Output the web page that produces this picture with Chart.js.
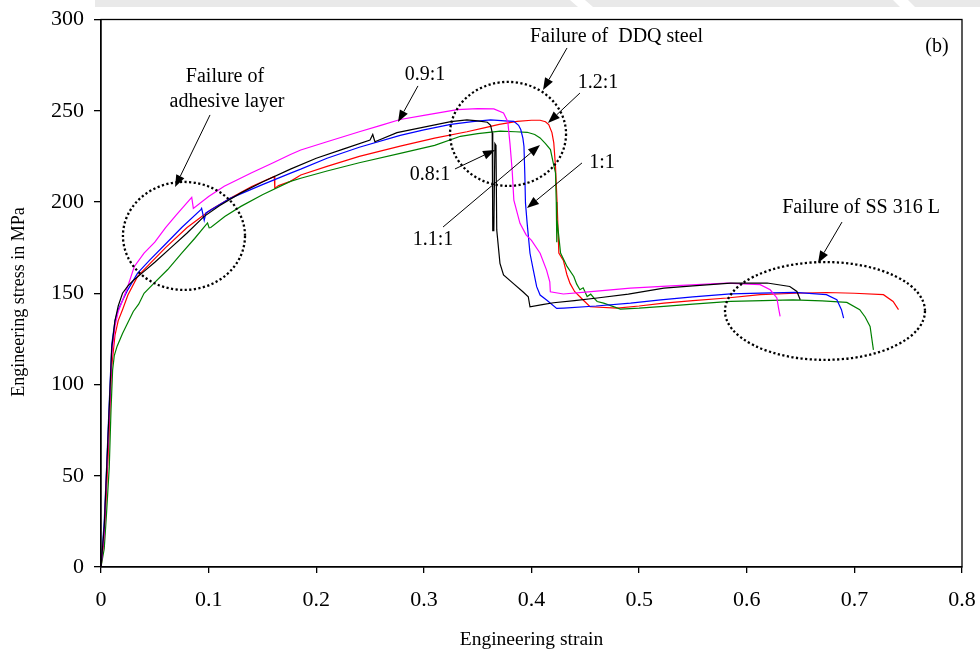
<!DOCTYPE html>
<html>
<head>
<meta charset="utf-8">
<script src="https://cdn.jsdelivr.net/npm/chart.js@4.4.1/dist/chart.umd.min.js"></script>
<style>
html, body { margin: 0; padding: 0; background: #fff; }
</style>
</head>
<body>
<canvas id="grafico" width="980" height="655"></canvas>
<script>
// Engineering strain / stress curves, one pair of arrays per width ratio
var strain08 = [0, 0.003, 0.005, 0.0075, 0.01, 0.013, 0.016, 0.02, 0.025, 0.03, 0.04, 0.05, 0.065, 0.08, 0.0956, 0.11, 0.13, 0.15, 0.176, 0.2, 0.225, 0.25, 0.2525, 0.2545, 0.275, 0.3, 0.325, 0.34, 0.35, 0.359, 0.362, 0.3635, 0.3639, 0.3641, 0.3645, 0.365, 0.366, 0.367, 0.3677, 0.3707, 0.374, 0.383, 0.392, 0.397, 0.3986, 0.41, 0.4205, 0.44, 0.461, 0.49, 0.523, 0.55, 0.585, 0.619, 0.64, 0.6466, 0.6497];
var stress08 = [0, 22, 50, 85, 120, 135, 143, 150, 154, 157, 162, 167, 175, 183, 192, 198, 205, 211, 218, 224, 229, 234, 237, 233, 238, 241, 244, 245, 244.5, 243.7, 242, 238, 237.6, 184, 192, 184, 232, 231, 184.7, 166.4, 160, 155.4, 150.8, 148.1, 142.6, 143.8, 144.8, 146, 147.4, 149.5, 152.8, 154, 155.6, 155.6, 153.7, 151, 146.4];

var strain09 = [0, 0.003, 0.005, 0.0075, 0.01, 0.013, 0.016, 0.02, 0.025, 0.031, 0.04, 0.05, 0.06, 0.07, 0.0843, 0.0858, 0.10, 0.1145, 0.14, 0.16, 0.176, 0.1856, 0.21, 0.24, 0.26, 0.278, 0.30, 0.331, 0.35, 0.365, 0.374, 0.378, 0.38, 0.382, 0.3836, 0.3893, 0.395, 0.400, 0.408, 0.414, 0.417, 0.4175, 0.4296, 0.45, 0.4919, 0.53, 0.5816, 0.6125, 0.6218, 0.628, 0.6295, 0.631];
var stress09 = [0, 18, 48, 80, 116, 132, 140, 146, 154, 164.7, 172, 178, 186, 193, 202.5, 196.5, 203, 208.6, 216, 221.5, 226, 228.5, 233, 238.5, 242, 245.2, 247.5, 250.6, 251.2, 251, 248.8, 244, 232, 217.7, 201, 188.3, 182, 179, 171.9, 162.7, 156.3, 150.8, 149.6, 150.6, 152.8, 154, 155.6, 154.7, 151.9, 147.4, 142, 137.3];

var strain10 = [0, 0.003, 0.005, 0.0075, 0.01, 0.013, 0.016, 0.02, 0.025, 0.034, 0.045, 0.06, 0.075, 0.0928, 0.0935, 0.0959, 0.0975, 0.12, 0.15, 0.1756, 0.1856, 0.21, 0.24, 0.278, 0.30, 0.325, 0.345, 0.362, 0.375, 0.3836, 0.388, 0.390, 0.392, 0.393, 0.3938, 0.3944, 0.396, 0.3986, 0.4017, 0.4048, 0.408, 0.414, 0.4234, 0.430, 0.46, 0.492, 0.52, 0.55, 0.585, 0.6125, 0.645, 0.674, 0.6837, 0.688, 0.690];
var stress10 = [0, 25, 52, 88, 122, 135, 141, 146, 152, 161, 168, 177, 186, 195.8, 196.5, 190, 194, 202, 209.5, 215.7, 218, 224, 230, 236.5, 239.5, 242.5, 244, 245, 244.5, 244.2, 242, 239.7, 235, 230.5, 215, 199.5, 188, 171.9, 162.7, 153.6, 149, 146.3, 141.7, 141.9, 143, 144.6, 146.4, 148, 149.7, 150.1, 150.5, 149.2, 146.4, 141, 136.4];

var strain11 = [0, 0.003, 0.005, 0.0077, 0.0093, 0.0108, 0.0124, 0.015, 0.02, 0.025, 0.03, 0.035, 0.04, 0.05, 0.062, 0.075, 0.087, 0.099, 0.1005, 0.102, 0.115, 0.130, 0.15, 0.176, 0.1856, 0.21, 0.24, 0.278, 0.31, 0.334, 0.35, 0.371, 0.385, 0.396, 0.403, 0.408, 0.413, 0.4176, 0.420, 0.4223, 0.423, 0.4235, 0.4238, 0.427, 0.433, 0.4393, 0.442, 0.445, 0.448, 0.4517, 0.455, 0.458, 0.461, 0.467, 0.4826, 0.50, 0.523, 0.55, 0.585, 0.615, 0.643, 0.67, 0.693, 0.705, 0.71, 0.7146, 0.7177];
var stress11 = [0, 10, 28, 55, 86, 108, 116, 121, 128, 134, 140, 144, 150, 156, 163, 172, 180, 188.5, 185.8, 186, 192, 197.6, 204, 211.3, 213, 217, 221.5, 226.6, 231, 236, 237.5, 238.8, 238.5, 238.2, 237, 235.1, 232, 228.7, 222, 215.9, 200, 178, 190, 172, 164.7, 159.2, 155, 151.9, 153, 148.2, 149.5, 147.4, 145.5, 144.6, 141.3, 141.8, 142.8, 144, 145.5, 146, 146.4, 145.8, 145, 141, 137, 131.8, 119];

var strain12 = [0, 0.003, 0.005, 0.0075, 0.01, 0.013, 0.016, 0.02, 0.025, 0.034, 0.045, 0.06, 0.08, 0.102, 0.12, 0.14, 0.161, 0.1615, 0.165, 0.176, 0.1856, 0.21, 0.24, 0.278, 0.31, 0.34, 0.356, 0.37, 0.3867, 0.40, 0.408, 0.413, 0.416, 0.419, 0.4207, 0.4223, 0.4238, 0.4254, 0.4296, 0.433, 0.4358, 0.44, 0.448, 0.4544, 0.4795, 0.50, 0.523, 0.55, 0.5816, 0.6125, 0.645, 0.674, 0.70, 0.727, 0.736, 0.741];
var stress12 = [0, 15, 40, 72, 110, 127, 135, 141, 149, 159.2, 166, 175, 186, 195.8, 202, 208.5, 214, 207.6, 209, 211.3, 214.8, 219.5, 225, 230.6, 235, 238.5, 240.6, 242.5, 244.2, 244.8, 244.8, 244, 242.4, 238, 232.4, 219.5, 199.5, 172, 168, 160, 155.4, 151, 146.3, 142.6, 141.9, 143, 144.6, 146, 147.4, 149.2, 150, 150.4, 150, 149.2, 145.5, 141];

var xTicks = [0, 0.1, 0.2, 0.3, 0.4, 0.5, 0.6, 0.7, 0.8];
var yTicks = [0, 50, 100, 150, 200, 250, 300];

// Callout texts, arrows and dotted rings, in strain / stress units
var textos = [
    ['Failure of', 0.1152, 268.5],
    ['adhesive layer', 0.1171, 254.8],
    ['0.9:1', 0.3011, 269.6],
    ['Failure of  DDQ steel', 0.479, 290.4],
    ['1.2:1', 0.4618, 265.2],
    ['0.8:1', 0.3057, 214.8],
    ['1.1:1', 0.3085, 179.2],
    ['1:1', 0.4655, 221.4],
    ['Failure of SS 316 L', 0.7062, 196.7],
    ['(b)', 0.7768, 284.9]
];
var setas = [
    [0.1013, 247.7, 0.0688, 208.2],
    [0.2945, 263.6, 0.2760, 243.8],
    [0.4330, 284.4, 0.4107, 261.4],
    [0.4450, 259.7, 0.4153, 243.3],
    [0.3289, 218.1, 0.3661, 228.5],
    [0.3178, 186.3, 0.4079, 231.2],
    [0.4469, 221.4, 0.3958, 196.7],
    [0.6885, 189.0, 0.6662, 166.6]
];
var elipses = [
    [0.0771, 181.4, 0.0567, 29.6],
    [0.3782, 237.3, 0.0539, 28.5],
    [0.6727, 140.3, 0.0929, 26.8]
];

var fonte = '"Liberation Serif", "Times New Roman", serif';

function pontos(xs, ys) {
    return xs.map(function (v, i) { return { x: v, y: ys[i] }; });
}

function serie(nome, xs, ys, cor) {
    return {
        label: nome,
        data: pontos(xs, ys),
        borderColor: cor,
        backgroundColor: cor,
        borderWidth: 1.2,
        pointRadius: 0,
        showLine: true,
        tension: 0
    };
}

var moldura = {
    id: 'moldura',
    beforeDraw: function (chart) {
        var ctx = chart.ctx;
        ctx.save();
        ctx.fillStyle = '#e9e9e9';
        ctx.beginPath();
        ctx.moveTo(95, 0); ctx.lineTo(570, 0); ctx.lineTo(578, 7); ctx.lineTo(95, 7);
        ctx.closePath(); ctx.fill();
        ctx.beginPath();
        ctx.moveTo(585, 0); ctx.lineTo(893, 0); ctx.lineTo(900, 7); ctx.lineTo(593, 7);
        ctx.closePath(); ctx.fill();
        ctx.beginPath();
        ctx.moveTo(908, 0); ctx.lineTo(980, 0); ctx.lineTo(980, 7); ctx.lineTo(915, 7);
        ctx.closePath(); ctx.fill();
        ctx.restore();
    },
    afterDraw: function (chart) {
        var a = chart.chartArea, ctx = chart.ctx;
        ctx.save();
        ctx.strokeStyle = '#000';
        ctx.lineWidth = 1.3;
        ctx.strokeRect(a.left, a.top, a.right - a.left, a.bottom - a.top);

        // vertical axis title
        ctx.fillStyle = '#000';
        ctx.font = '18px ' + fonte;
        ctx.textAlign = 'center';
        ctx.textBaseline = 'middle';
        ctx.translate(19, 302);
        ctx.rotate(-Math.PI / 2);
        ctx.fillText('Engineering stress in MPa', 0, 0);
        ctx.restore();
    }
};

var anotacoes = {
    id: 'anotacoes',
    afterDatasetsDraw: function (chart) {
        var ctx = chart.ctx, sx = chart.scales.x, sy = chart.scales.y;
        ctx.save();

        // dotted rings
        ctx.strokeStyle = '#000';
        ctx.lineWidth = 2.3;
        ctx.setLineDash([2.2, 2.4]);
        elipses.forEach(function (e) {
            var cx = sx.getPixelForValue(e[0]);
            var cy = sy.getPixelForValue(e[1]);
            var rx = sx.getPixelForValue(e[0] + e[2]) - cx;
            var ry = cy - sy.getPixelForValue(e[1] + e[3]);
            ctx.beginPath();
            ctx.ellipse(cx, cy, rx, ry, 0, 0, Math.PI * 2);
            ctx.stroke();
        });
        ctx.setLineDash([]);

        // arrows
        ctx.lineWidth = 1;
        ctx.fillStyle = '#000';
        setas.forEach(function (s) {
            var x1 = sx.getPixelForValue(s[0]), y1 = sy.getPixelForValue(s[1]);
            var x2 = sx.getPixelForValue(s[2]), y2 = sy.getPixelForValue(s[3]);
            var ang = Math.atan2(y2 - y1, x2 - x1);
            var comp = 12, meia = 4.5;
            var bx = x2 - comp * Math.cos(ang), by = y2 - comp * Math.sin(ang);
            ctx.beginPath();
            ctx.moveTo(x1, y1);
            ctx.lineTo(bx, by);
            ctx.stroke();
            ctx.beginPath();
            ctx.moveTo(x2, y2);
            ctx.lineTo(bx + meia * Math.sin(ang), by - meia * Math.cos(ang));
            ctx.lineTo(bx - meia * Math.sin(ang), by + meia * Math.cos(ang));
            ctx.closePath();
            ctx.fill();
        });

        // callout texts
        ctx.font = '20px ' + fonte;
        ctx.textAlign = 'center';
        ctx.textBaseline = 'middle';
        textos.forEach(function (t) {
            ctx.fillText(t[0], sx.getPixelForValue(t[1]), sy.getPixelForValue(t[2]));
        });
        ctx.restore();
    }
};

var contexto = document.getElementById('grafico').getContext('2d');
var grafico = new Chart(contexto, {
    type: 'scatter',
    data: {
        datasets: [
            serie('0.8:1', strain08, stress08, '#000000'),
            serie('0.9:1', strain09, stress09, '#ff00ff'),
            serie('1:1', strain10, stress10, '#0000ff'),
            serie('1.1:1', strain11, stress11, '#008000'),
            serie('1.2:1', strain12, stress12, '#ff0000')
        ]
    },
    options: {
        responsive: false,
        animation: false,
        layout: { padding: { top: 19.5, right: 18, left: 0, bottom: 0 } },
        plugins: {
            legend: { display: false },
            tooltip: { enabled: false }
        },
        scales: {
            x: {
                type: 'linear',
                min: 0,
                max: 0.8,
                afterFit: function (s) { s.height = 88; s.paddingLeft = 0; s.paddingRight = 0; },
                afterBuildTicks: function (s) { s.ticks = xTicks.map(function (v) { return { value: v }; }); },
                border: { display: true, color: '#000', width: 1.3 },
                grid: { display: true, drawOnChartArea: false, drawTicks: true, tickLength: 6, color: '#000', lineWidth: 1.3 },
                ticks: {
                    color: '#000',
                    padding: 14,
                    maxRotation: 0,
                    font: { family: fonte, size: 22 },
                    callback: function (v) { return String(+v.toFixed(1)); }
                },
                title: {
                    display: true,
                    text: 'Engineering strain',
                    color: '#000',
                    font: { family: fonte, size: 19.5 },
                    padding: { top: 0, bottom: 3 }
                }
            },
            y: {
                type: 'linear',
                min: 0,
                max: 300,
                afterFit: function (s) { s.width = 101; s.paddingTop = 0; s.paddingBottom = 0; },
                afterBuildTicks: function (s) { s.ticks = yTicks.map(function (v) { return { value: v }; }); },
                border: { display: true, color: '#000', width: 1.3 },
                grid: { display: true, drawOnChartArea: false, drawTicks: true, tickLength: 7, color: '#000', lineWidth: 1.3 },
                ticks: {
                    color: '#000',
                    padding: 10,
                    font: { family: fonte, size: 22 }
                }
            }
        }
    },
    plugins: [moldura, anotacoes]
});
</script>
</body>
</html>
